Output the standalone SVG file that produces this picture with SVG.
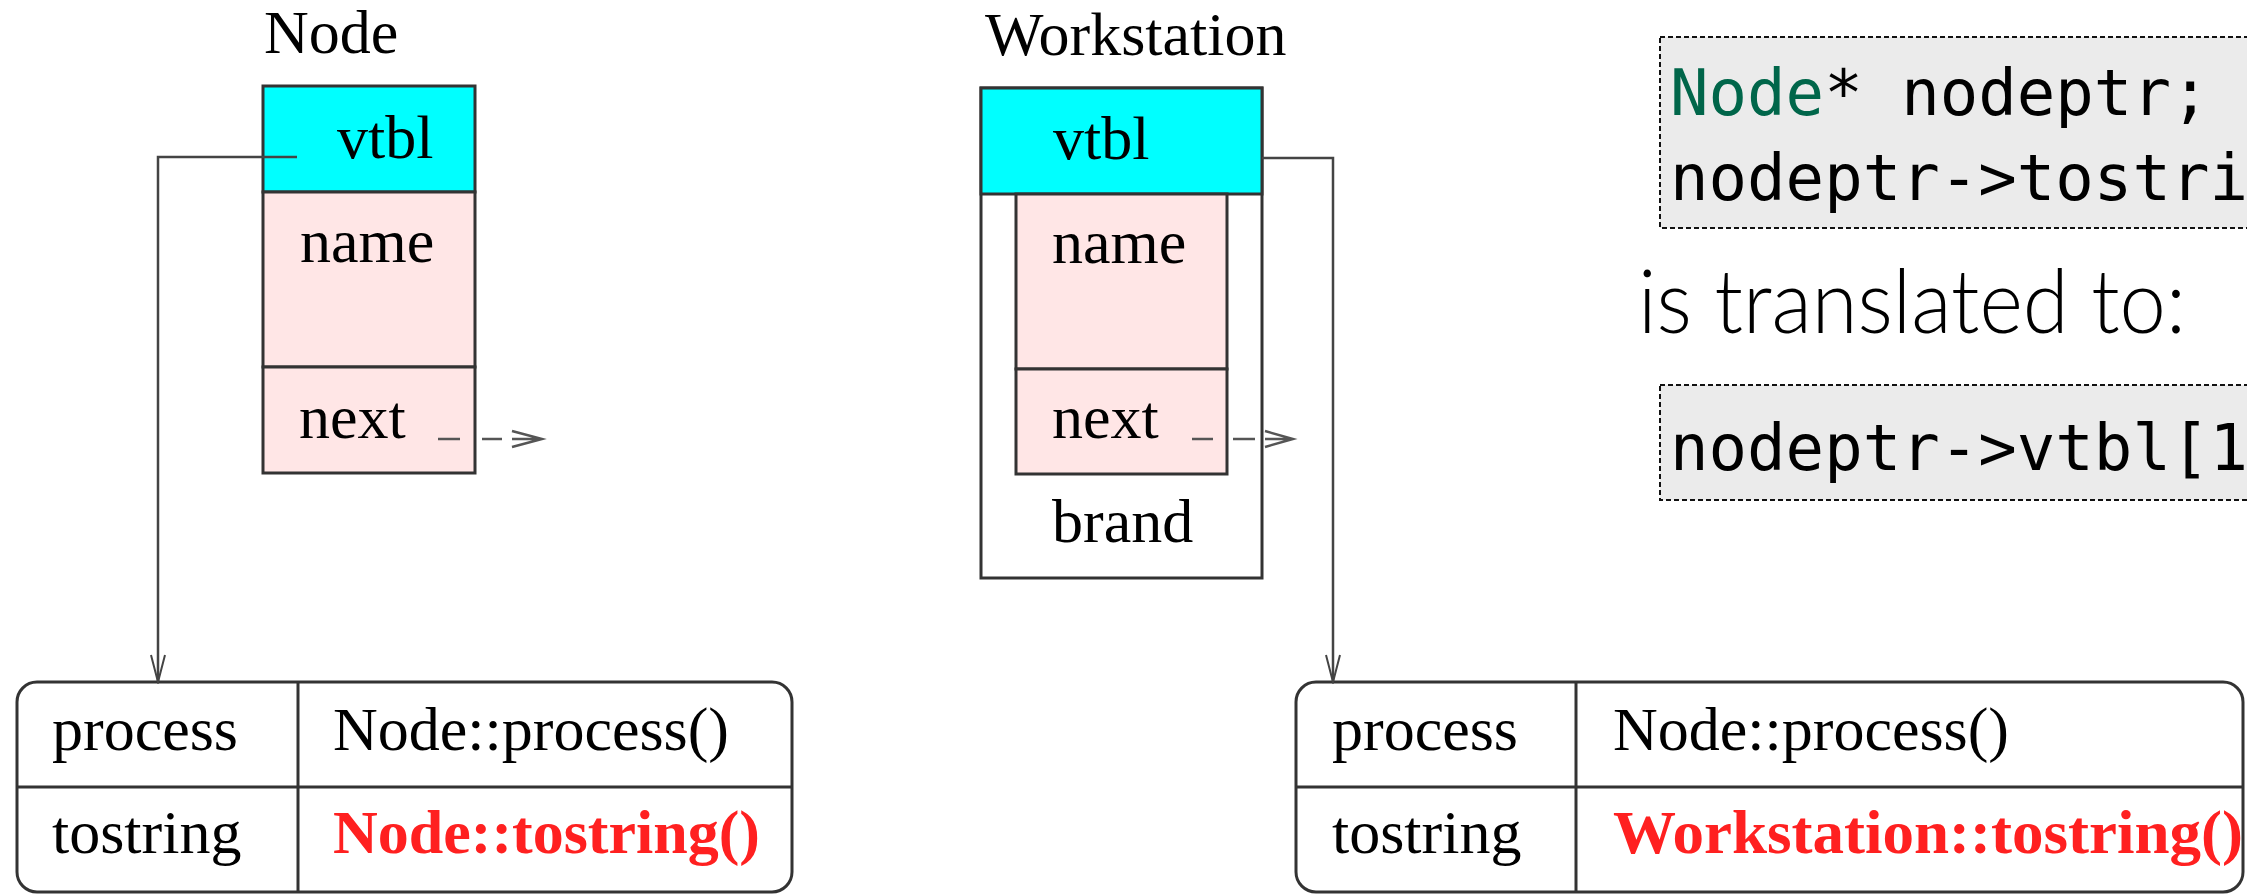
<svg xmlns="http://www.w3.org/2000/svg" width="2247" height="894" viewBox="0 0 2247 894">
<style>
.t{font-family:"Liberation Serif","Times New Roman",serif;font-size:62px;fill:#000}
.red{font-weight:bold;fill:#ff2020}
.box{stroke:#333;stroke-width:3}
.cyan{fill:#00ffff}
.pink{fill:#ffe6e6}
.white{fill:#fff}
.conn{fill:none;stroke:#444;stroke-width:2.5}
.ptr{fill:none;stroke:#555;stroke-width:2.5}
.code{font-family:"DejaVu Sans Mono","Liberation Mono",monospace;font-size:64px;fill:#000}
.cbox{fill:#ebebeb;stroke:#111;stroke-width:2;stroke-dasharray:5 3}
.prose{font-family:Lato,"Open Sans","Liberation Sans",sans-serif;font-weight:300;font-size:88px;fill:#000}
</style>
<defs>
<marker id="ah" markerWidth="16" markerHeight="30" refX="8" refY="28" orient="0" markerUnits="userSpaceOnUse">
<path d="M1,1 L8,28 L15,1" fill="none" stroke="#444" stroke-width="2"/>
</marker>
</defs>

<g id="node">
<text class="t" x="264" y="53">Node</text>
<rect class="box cyan" x="263" y="86" width="212" height="106"/>
<rect class="box pink" x="263" y="192" width="212" height="175"/>
<rect class="box pink" x="263" y="367" width="212" height="106"/>
<text class="t" x="337" y="158">vtbl</text>
<text class="t" x="300" y="262">name</text>
<text class="t" x="299" y="438">next</text>
</g>

<g id="workstation">
<text class="t" x="985" y="55">Workstation</text>
<rect class="box white" x="981" y="88" width="281" height="490"/>
<rect class="box cyan" x="981" y="88" width="281" height="106"/>
<rect class="box pink" x="1016" y="194" width="211" height="175"/>
<rect class="box pink" x="1016" y="369" width="211" height="105"/>
<text class="t" x="1053" y="159">vtbl</text>
<text class="t" x="1052" y="263">name</text>
<text class="t" x="1052" y="438">next</text>
<text class="t" x="1052" y="542">brand</text>
</g>

<g id="vtable-node">
<rect class="box white" x="17" y="682" width="775" height="210" rx="20"/>
<line class="box" x1="298" y1="682" x2="298" y2="892"/>
<line class="box" x1="17" y1="787" x2="792" y2="787"/>
<text class="t" x="52" y="750">process</text>
<text class="t" x="52" y="853">tostring</text>
<text class="t" x="333" y="750">Node::process()</text>
<text class="t red" x="333" y="853">Node::tostring()</text>
</g>

<g id="vtable-workstation">
<rect class="box white" x="1296" y="682" width="947" height="210" rx="20"/>
<line class="box" x1="1576" y1="682" x2="1576" y2="892"/>
<line class="box" x1="1296" y1="787" x2="2243" y2="787"/>
<text class="t" x="1332" y="750">process</text>
<text class="t" x="1332" y="853">tostring</text>
<text class="t" x="1613" y="750">Node::process()</text>
<text class="t red" x="1613" y="853" textLength="630" lengthAdjust="spacingAndGlyphs">Workstation::tostring()</text>
</g>

<g id="code">
<rect class="cbox" x="1660" y="37" width="600" height="191"/>
<text class="code" x="1670" y="115"><tspan fill="#00664a">Node</tspan>* nodeptr;</text>
<text class="code" x="1670" y="200">nodeptr-&gt;tostri</text>
<text class="prose" x="1638" y="333" textLength="548" lengthAdjust="spacingAndGlyphs">is translated to:</text>
<rect class="cbox" x="1660" y="385" width="600" height="115"/>
<text class="code" x="1670" y="470">nodeptr-&gt;vtbl[1</text>
</g>

<g id="connectors">
<polyline class="conn" points="297,157 158,157 158,682" marker-end="url(#ah)"/>
<polyline class="conn" points="1262,158 1333,158 1333,682" marker-end="url(#ah)"/>
<line class="ptr" x1="438" y1="439" x2="460" y2="439"/>
<line class="ptr" x1="482" y1="439" x2="502" y2="439"/>
<path class="ptr" d="M512,431 L542,439 L512,447 M512,439 L542,439"/>
<line class="ptr" x1="1192" y1="439" x2="1213" y2="439"/>
<line class="ptr" x1="1233" y1="439" x2="1255" y2="439"/>
<path class="ptr" d="M1265,431 L1293,439 L1265,447 M1265,439 L1293,439"/>
</g>
</svg>
